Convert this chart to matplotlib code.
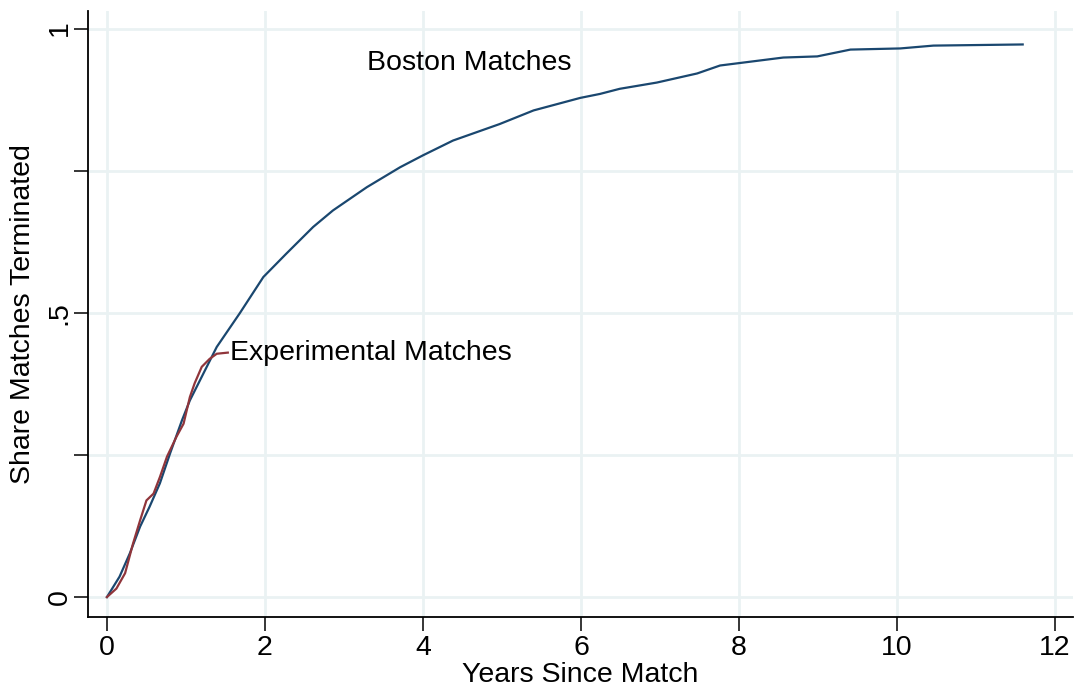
import matplotlib
matplotlib.use("Agg")
import matplotlib.pyplot as plt

# Share of matches terminated by years since match
boston_years = [0, 0.16, 0.29, 0.42, 0.54, 0.67, 0.80, 0.95, 1.05, 1.22, 1.39, 1.68,
                1.98, 2.27, 2.61, 2.86, 3.08, 3.29, 3.71, 4.00, 4.38, 4.97, 5.40,
                5.99, 6.24, 6.49, 6.96, 7.47, 7.76, 8.56, 8.99, 9.41, 10.04, 10.46, 11.59]
boston_share = [0, 0.036, 0.077, 0.124, 0.159, 0.200, 0.253, 0.311, 0.346, 0.393, 0.440,
                0.499, 0.563, 0.604, 0.651, 0.680, 0.701, 0.721, 0.756, 0.777, 0.803,
                0.832, 0.856, 0.878, 0.885, 0.894, 0.905, 0.921, 0.935, 0.949, 0.951,
                0.963, 0.965, 0.970, 0.972]

exp_years = [0, 0.12, 0.23, 0.33, 0.42, 0.50, 0.59, 0.67, 0.76, 0.88, 0.97, 1.05,
             1.11, 1.20, 1.30, 1.39, 1.53]
exp_share = [0, 0.015, 0.042, 0.094, 0.135, 0.170, 0.182, 0.211, 0.247, 0.282, 0.305,
             0.352, 0.376, 0.405, 0.419, 0.428, 0.430]

x_ticks = [0, 2, 4, 6, 8, 10, 12]
y_ticks = [0, 0.5, 1]
y_tick_labels = ["0", ".5", "1"]
y_minor = [0.25, 0.75]

plt.rcParams["font.family"] = ["Liberation Sans", "DejaVu Sans"]
fs = 20.5

fig = plt.figure(figsize=(10.78, 6.92), dpi=100)
ax = fig.add_axes([0.0816, 0.1084, 0.914, 0.875])

grid_color = "#eaf2f3"
for gx in x_ticks:
    ax.axvline(gx, color=grid_color, lw=2, zorder=0)
for gy in y_ticks + y_minor:
    ax.axhline(gy, color=grid_color, lw=2, zorder=0)

ax.plot(boston_years, boston_share, color="#1a476f", lw=1.6, zorder=3)
ax.plot(exp_years, exp_share, color="#90353b", lw=1.6, zorder=4)

ax.text(exp_years[-1] + 0.03, exp_share[-1], "Experimental Matches",
        fontsize=fs, va="center", ha="left")
ax.text(3.29, 0.94, "Boston Matches", fontsize=fs, va="center", ha="left")

ax.set_xlim(-0.24, 12.23)
ax.set_ylim(-0.035, 1.03)

ax.set_xticks(x_ticks)
ax.set_yticks(y_ticks)
ax.set_yticklabels(y_tick_labels, rotation=90, va="center")
ax.set_yticks(y_minor, minor=True)
ax.tick_params(axis="both", which="both", direction="out", length=10, width=1.1,
               labelsize=fs)
ax.tick_params(axis="x", pad=3)
ax.tick_params(axis="y", pad=1)

ax.set_xlabel("Years Since Match", fontsize=fs, labelpad=1)
ax.set_ylabel("Share Matches Terminated", fontsize=fs, labelpad=8)

for side in ["top", "right"]:
    ax.spines[side].set_visible(False)
for side in ["left", "bottom"]:
    ax.spines[side].set_linewidth(1.3)

fig.savefig("out.png", dpi=100)
